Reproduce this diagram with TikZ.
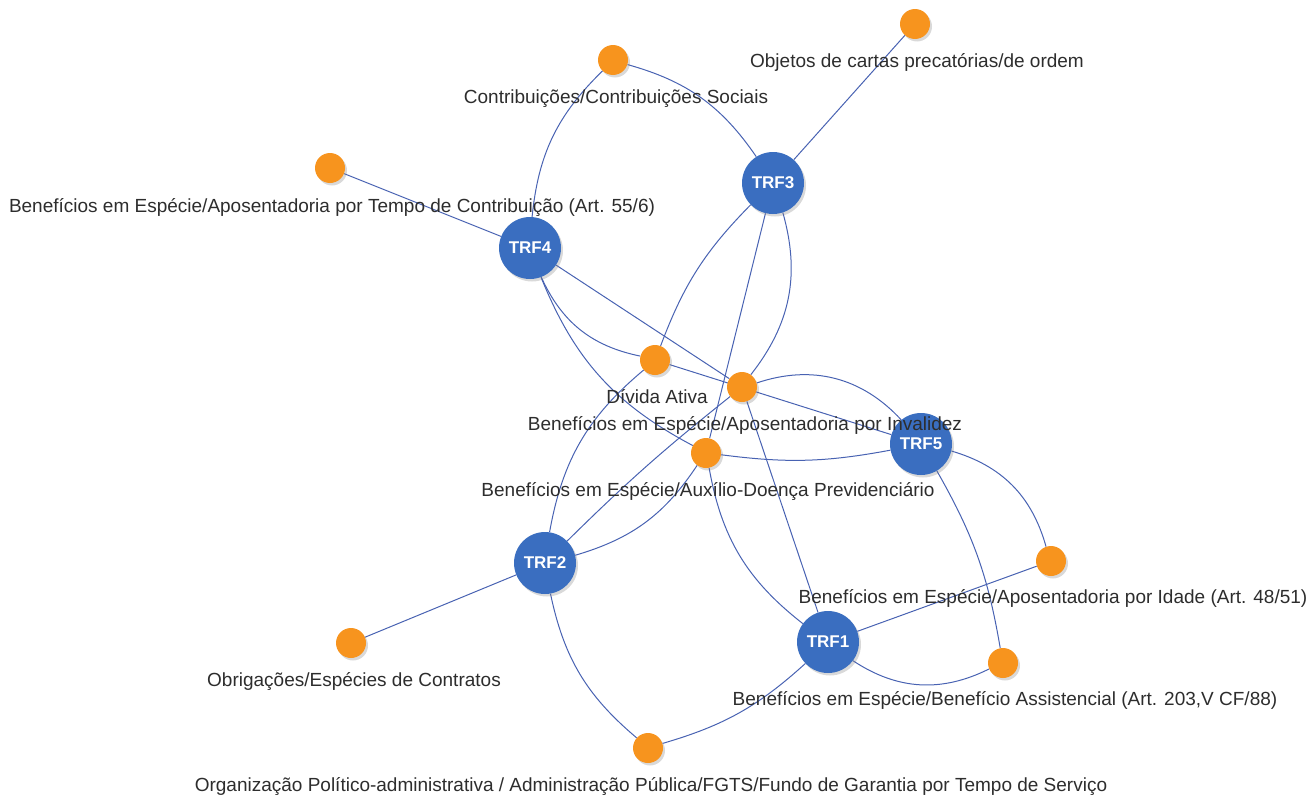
\documentclass[tikz,border=0pt]{standalone}
\usepackage{fontspec}
\setmainfont{Liberation Sans}
\usetikzlibrary{shadows}
\definecolor{trfblue}{RGB}{58,110,192}
\definecolor{orng}{RGB}{247,148,30}
\definecolor{edgec}{RGB}{72,98,178}
\definecolor{txt}{RGB}{45,45,45}
\pgfdeclarelayer{bg}
\pgfsetlayers{bg,main}
\tikzset{
  trf/.style={circle, fill=trfblue, minimum size=62pt, inner sep=0pt, text=white,
    font=\bfseries\fontsize{17}{17}\selectfont,
    drop shadow={opacity=0.3, shadow xshift=2pt, shadow yshift=-2.5pt}},
  subj/.style={circle, fill=orng, minimum size=30pt, inner sep=0pt,
    drop shadow={opacity=0.3, shadow xshift=2pt, shadow yshift=-2.5pt}},
  lbl/.style={anchor=base, text=txt, inner sep=0pt, font=\fontsize{19}{19}\selectfont},
  edge/.style={draw=edgec, line width=1pt},
}
\begin{document}
\begin{tikzpicture}[x=1pt,y=-1pt]
\useasboundingbox (0,0) rectangle (1307,795);
% TRF nodes
\node[trf] (trf1) at (828,642) {TRF1};
\node[trf] (trf2) at (545,563) {TRF2};
\node[trf] (trf3) at (773,183) {TRF3};
\node[trf] (trf4) at (530,248) {TRF4};
\node[trf] (trf5) at (921,444) {TRF5};
% subject nodes
\node[subj] (obj) at (915,24) {};
\node[subj] (contrib) at (613,60) {};
\node[subj] (aptempo) at (330,168) {};
\node[subj] (divida) at (655,360) {};
\node[subj] (invalidez) at (742,387) {};
\node[subj] (auxilio) at (706,453) {};
\node[subj] (idade) at (1051,561) {};
\node[subj] (obrig) at (351,643) {};
\node[subj] (assist) at (1003,663) {};
\node[subj] (org) at (648,748) {};
% labels
\node[lbl] (objL) at (917,67) {Objetos de cartas precatórias/de ordem};
\node[lbl] (contribL) at (616,103) {Contribuições/Contribuições Sociais};
\node[lbl] (aptempoL) at (332,212) {Benefícios em Espécie/Aposentadoria por Tempo de Contribuição (Art. 55/6)};
\node[lbl] (dividaL) at (657,403) {Dívida Ativa};
\node[lbl] (invalidezL) at (745,430) {Benefícios em Espécie/Aposentadoria por Invalidez};
\node[lbl] (auxilioL) at (708,496) {Benefícios em Espécie/Auxílio-Doença Previdenciário};
\node[lbl] (idadeL) at (1053,603) {Benefícios em Espécie/Aposentadoria por Idade (Art. 48/51)};
\node[lbl] (obrigL) at (354,686) {Obrigações/Espécies de Contratos};
\node[lbl] (assistL) at (1005,705) {Benefícios em Espécie/Benefício Assistencial (Art. 203,V CF/88)};
\node[lbl] (orgL) at (651,791) {Organização Político-administrativa / Administração Pública/FGTS/Fundo de Garantia por Tempo de Serviço};
% edges
\begin{pgfonlayer}{bg}
\draw[edge] (trf3) -- (obj);
\draw[edge] (contrib) to[bend left=20] (trf3);
\draw[edge] (trf4) to[bend left=20] (contrib);
\draw[edge] (trf4) -- (aptempo);
\draw[edge] (trf4) to[bend right=27] (divida);
\draw[edge] (trf4) -- (invalidez);
\draw[edge] (trf4) to[bend right=20] (auxilio);
\draw[edge] (trf3) to[bend right=12] (divida);
\draw[edge] (trf3) -- (auxilio);
\draw[edge] (trf3) to[bend left=27] (invalidez);
\draw[edge] (divida) -- (trf5);
\draw[edge] (invalidez) to[bend left=33] (trf5);
\draw[edge] (auxilio) to[bend right=9] (trf5);
\draw[edge] (trf5) to[bend left=29] (idade);
\draw[edge] (trf5) to[bend left=10] (assist);
\draw[edge] (trf1) -- (idade);
\draw[edge] (trf1) to[bend right=30] (assist);
\draw[edge] (trf1) to[bend left=13] (org);
\draw[edge] (trf1) -- (invalidez);
\draw[edge] (trf1) to[bend left=21] (auxilio);
\draw[edge] (trf2) -- (obrig);
\draw[edge] (trf2) to[bend right=19] (org);
\draw[edge] (trf2) to[bend left=20] (divida);
\draw[edge] (trf2) to[bend left=3] (invalidez);
\draw[edge] (trf2) to[bend right=20] (auxilio);
\end{pgfonlayer}
\end{tikzpicture}
\end{document}
